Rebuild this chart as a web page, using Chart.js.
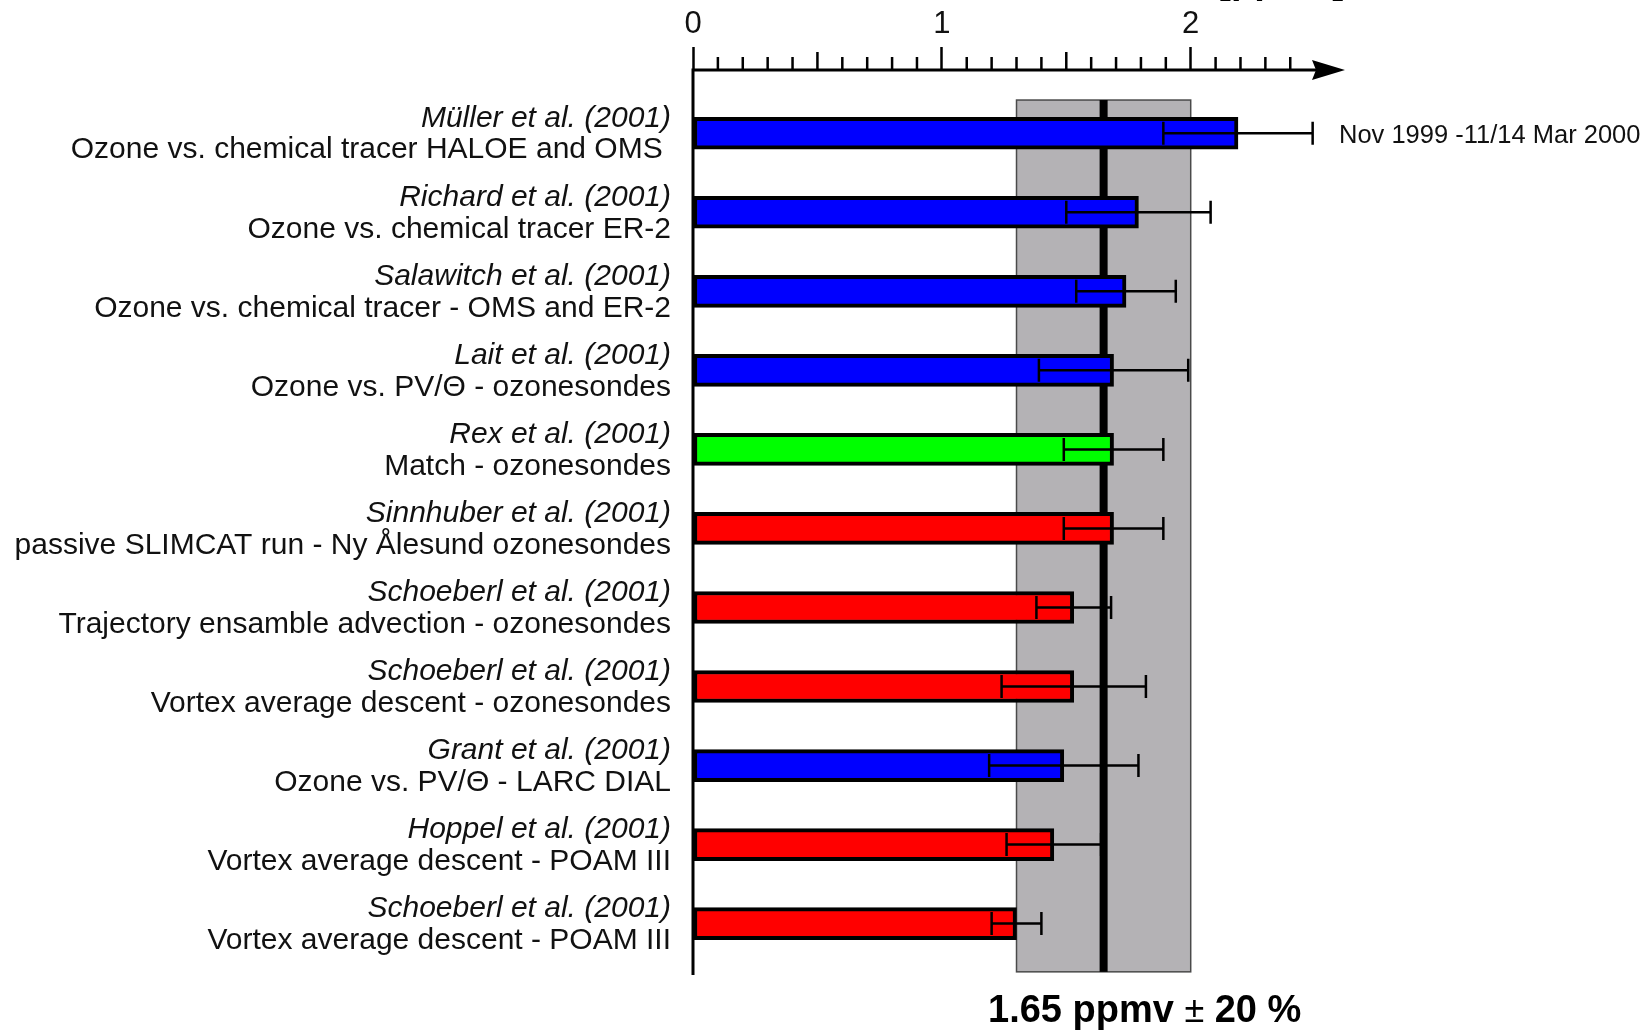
<!DOCTYPE html>
<html>
<head>
<meta charset="utf-8">
<script src="https://cdn.jsdelivr.net/npm/chart.js@4.4.0/dist/chart.umd.min.js"></script>
<style>
  html, body { margin: 0; padding: 0; background: #fff; }
  #chart { display: block; }
</style>
</head>
<body>
<canvas id="chart" width="1648" height="1031"></canvas>
<script>
const authors = [
  'Müller et al. (2001)', 'Richard et al. (2001)', 'Salawitch et al. (2001)',
  'Lait et al. (2001)', 'Rex et al. (2001)', 'Sinnhuber et al. (2001)',
  'Schoeberl et al. (2001)', 'Schoeberl et al. (2001)', 'Grant et al. (2001)',
  'Hoppel et al. (2001)', 'Schoeberl et al. (2001)'
];
const methods = [
  'Ozone vs. chemical tracer HALOE and OMS ',
  'Ozone vs. chemical tracer ER-2',
  'Ozone vs. chemical tracer - OMS and ER-2',
  'Ozone vs. PV/Θ - ozonesondes',
  'Match - ozonesondes',
  'passive SLIMCAT run - Ny Ålesund ozonesondes',
  'Trajectory ensamble advection - ozonesondes',
  'Vortex average descent - ozonesondes',
  'Ozone vs. PV/Θ - LARC DIAL',
  'Vortex average descent - POAM III',
  'Vortex average descent - POAM III'
];
// ozone loss [ppmv] and its uncertainty
const loss    = [2.19, 1.79, 1.74, 1.69, 1.69, 1.69, 1.53, 1.53, 1.49, 1.45, 1.30];
const lossErr = [0.30, 0.29, 0.20, 0.30, 0.20, 0.20, 0.15, 0.29, 0.30, 0.19, 0.10];
const group   = ['blue', 'blue', 'blue', 'blue', 'green', 'red', 'red', 'red', 'blue', 'red', 'red'];
const xTicks = [0, 1, 2];
const meanLoss = 1.65;
const spread = 0.20;
const band = [1.30, 2.0];   // shaded range as drawn
const period = 'Nov 1999 -11/14 Mar 2000';
const unit = '[ppmv]';

const groupColors = { blue: '#0000ff', green: '#00ff00', red: '#ff0000' };
const FONT = '"Liberation Sans", Arial, sans-serif';

const extras = {
  id: 'extras',
  beforeDatasetsDraw(chart) {
    const { ctx, scales: { x, y } } = chart;
    const x0 = x.getPixelForValue(band[0]);
    const x1 = x.getPixelForValue(band[1]);
    const y0 = y.getPixelForValue(-0.42);
    const y1 = y.getPixelForValue(10.61);
    ctx.save();
    ctx.fillStyle = '#b4b2b5';
    ctx.fillRect(x0, y0, x1 - x0, y1 - y0);
    ctx.strokeStyle = '#4a4a4a';
    ctx.lineWidth = 1.5;
    ctx.strokeRect(x0, y0, x1 - x0, y1 - y0);
    const xm = x.getPixelForValue(meanLoss);
    ctx.fillStyle = '#000';
    ctx.fillRect(xm - 4, y0, 8, y1 - y0);
    ctx.restore();
  },
  afterDatasetsDraw(chart) {
    const { ctx, chartArea: a, scales: { x, y } } = chart;
    ctx.save();

    // error bars
    ctx.strokeStyle = '#000';
    ctx.lineWidth = 2.5;
    loss.forEach((v, i) => {
      const yc = y.getPixelForValue(i);
      const xl = x.getPixelForValue(v - lossErr[i]);
      const xr = x.getPixelForValue(v + lossErr[i]);
      ctx.beginPath();
      ctx.moveTo(xl, yc); ctx.lineTo(xr, yc);
      ctx.moveTo(xl, yc - 11.5); ctx.lineTo(xl, yc + 11.5);
      ctx.moveTo(xr, yc - 11.5); ctx.lineTo(xr, yc + 11.5);
      ctx.stroke();
    });

    // axes
    ctx.lineWidth = 3;
    ctx.beginPath();
    ctx.moveTo(a.left, a.top); ctx.lineTo(a.left, a.bottom);
    ctx.moveTo(a.left - 1.5, a.top); ctx.lineTo(a.right - 28, a.top);
    ctx.stroke();
    ctx.fillStyle = '#000';
    ctx.beginPath();
    ctx.moveTo(a.right, a.top);
    ctx.lineTo(a.right - 33, a.top - 10);
    ctx.lineTo(a.right - 29, a.top);
    ctx.lineTo(a.right - 33, a.top + 10);
    ctx.closePath();
    ctx.fill();

    // minor ticks every 0.1
    ctx.lineWidth = 2.5;
    ctx.beginPath();
    for (let k = 1; k <= 24; k++) {
      if (k % 10 === 0) continue;
      const px = x.getPixelForValue(k / 10);
      const len = k % 5 === 0 ? 18 : 13;
      ctx.moveTo(px, a.top); ctx.lineTo(px, a.top - len);
    }
    ctx.stroke();

    // x tick labels
    ctx.fillStyle = '#111';
    ctx.textAlign = 'center';
    ctx.textBaseline = 'alphabetic';
    ctx.font = '31px ' + FONT;
    xTicks.forEach(v => ctx.fillText(String(v), x.getPixelForValue(v), 33));

    // category labels
    ctx.textAlign = 'right';
    ctx.textBaseline = 'middle';
    const lx = a.left - 22;
    authors.forEach((name, i) => {
      const yc = y.getPixelForValue(i);
      ctx.font = 'italic 30px ' + FONT;
      ctx.fillText(name, lx, yc - 15);
      ctx.font = '30px ' + FONT;
      ctx.fillText(methods[i], lx, yc + 17);
    });

    // period note
    ctx.textAlign = 'left';
    ctx.font = '25.5px ' + FONT;
    ctx.fillText(period, a.right - 6, y.getPixelForValue(0) + 3);

    // unit (cut off at the top edge)
    ctx.textAlign = 'right';
    ctx.textBaseline = 'alphabetic';
    ctx.font = 'bold 38px ' + FONT;
    ctx.fillStyle = '#000';
    ctx.fillText(unit, a.right, -7);

    // mean value caption
    ctx.textAlign = 'left';
    ctx.textBaseline = 'middle';
    const parts = [
      [meanLoss.toFixed(2) + ' ppmv ', 'bold 38px '],
      ['±', '36px '],
      [' ' + Math.round(spread * 100) + ' %', 'bold 38px ']
    ];
    let cx = 988;
    const cy = 1012;
    parts.forEach(([t, f]) => {
      ctx.font = f + FONT;
      ctx.fillText(t, cx, cy);
      cx += ctx.measureText(t).width;
    });

    ctx.restore();
  }
};

new Chart(document.getElementById('chart'), {
  type: 'bar',
  data: {
    datasets: [{
      data: loss.map((v, i) => ({ x: v, y: i })),
      backgroundColor: group.map(g => groupColors[g]),
      borderColor: '#000',
      borderWidth: 4,
      borderSkipped: false,
      barThickness: 32
    }]
  },
  options: {
    indexAxis: 'y',
    responsive: false,
    animation: false,
    layout: { padding: { top: 47, left: 693, right: 303, bottom: 56 } },
    plugins: { legend: { display: false }, tooltip: { enabled: false } },
    scales: {
      x: {
        type: 'linear',
        position: 'top',
        min: 0,
        max: 2.62,
        afterBuildTicks: s => { s.ticks = xTicks.map(v => ({ value: v })); },
        grid: { display: true, drawOnChartArea: false, drawTicks: true, tickLength: 23, tickWidth: 2.5, tickColor: '#000' },
        border: { display: false },
        ticks: { display: false }
      },
      y: {
        type: 'linear',
        min: -0.8,
        max: 10.65,
        reverse: true,
        offset: false,
        display: false
      }
    }
  },
  plugins: [extras]
});
</script>
</body>
</html>
